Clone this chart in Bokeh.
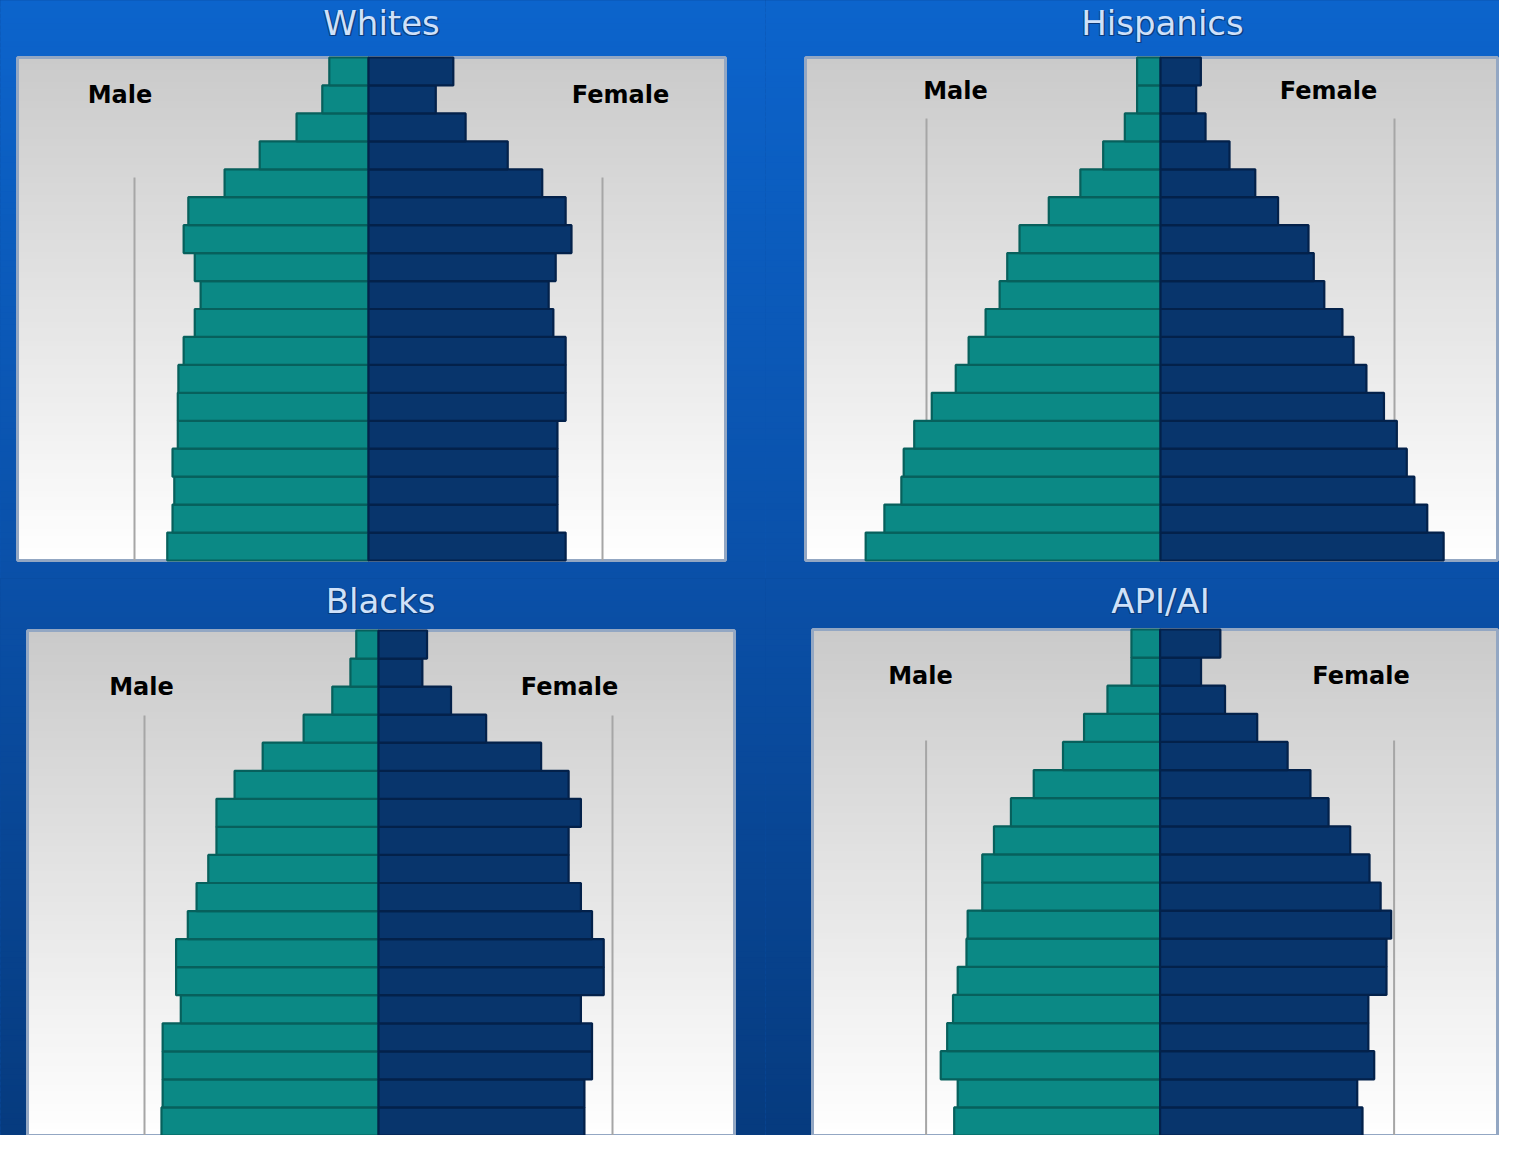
import numpy as np
from bokeh.plotting import figure
from bokeh.layouts import row, column
from bokeh.core.properties import value
from bokeh.embed import file_html
from bokeh.resources import INLINE

# ---------------- data (bottom row = youngest age group) ----------------
age_groups = ["0-4", "5-9", "10-14", "15-19", "20-24", "25-29", "30-34", "35-39",
              "40-44", "45-49", "50-54", "55-59", "60-64", "65-69", "70-74",
              "75-79", "80-84", "85+"]

whites_male = [3.44, 3.35, 3.32, 3.35, 3.26, 3.26, 3.25, 3.16, 2.97, 2.87, 2.97,
               3.16, 3.08, 2.46, 1.86, 1.23, 0.79, 0.67]
whites_female = [3.37, 3.23, 3.23, 3.23, 3.23, 3.37, 3.37, 3.37, 3.16, 3.08, 3.20,
                 3.47, 3.37, 2.97, 2.38, 1.66, 1.15, 1.45]

hispanics_male = [5.04, 4.72, 4.43, 4.39, 4.21, 3.91, 3.50, 3.28, 2.99, 2.75, 2.62,
                  2.41, 1.91, 1.37, 0.98, 0.61, 0.40, 0.40]
hispanics_female = [4.84, 4.56, 4.34, 4.21, 4.04, 3.82, 3.52, 3.30, 3.11, 2.80, 2.62,
                    2.53, 2.01, 1.62, 1.18, 0.77, 0.61, 0.69]

blacks_male = [3.71, 3.69, 3.69, 3.69, 3.38, 3.46, 3.46, 3.26, 3.11, 2.91, 2.77,
               2.77, 2.46, 1.98, 1.28, 0.79, 0.48, 0.38]
blacks_female = [3.52, 3.52, 3.65, 3.65, 3.46, 3.85, 3.85, 3.65, 3.46, 3.25, 3.25,
                 3.46, 3.25, 2.78, 1.84, 1.24, 0.75, 0.83]

api_male = [3.52, 3.46, 3.75, 3.64, 3.54, 3.46, 3.31, 3.29, 3.04, 3.04, 2.84,
            2.55, 2.16, 1.66, 1.30, 0.90, 0.49, 0.49]
api_female = [3.46, 3.37, 3.66, 3.56, 3.56, 3.87, 3.87, 3.95, 3.77, 3.58, 3.25,
              2.88, 2.57, 2.18, 1.66, 1.11, 0.70, 1.03]

panel_titles = ["Whites", "Hispanics", "Blacks", "API/AI"]
side_labels = ["Male", "Female"]
grid_values = [-4.0, 4.0]

# ---------------- styling / layout ----------------
PX = 58.5              # pixels per unit on the value axis
MALE_FILL, MALE_LINE = "#0b8985", "#07605c"
FEMALE_FILL, FEMALE_LINE = "#08356c", "#03214a"
TITLE_COLOR, TITLE_SHADOW = "#cfe1f9", "#0a3672"
BLUE_STOPS = [(0, (12, 100, 204)), (578, (10, 80, 168)), (1151, (6, 58, 125))]

# pixel geometry per panel (canvas-local px from top-left); text positions = visual centres
layout_cfg = [
    dict(W=765, H=578, gy0=0, frame=(17, 725, 57, 560), cx=368, title=(381, 22),
         male_lbl=(119.5, 94.5), female_lbl=(620, 94.5), grid_top=177),
    dict(W=734, H=578, gy0=0, frame=(40, 732, 57, 560), cx=395, title=(397, 22),
         male_lbl=(190, 90.5), female_lbl=(563, 90.5), grid_top=118),
    dict(W=765, H=557, gy0=578, frame=(27, 734, 52, 557), cx=378, title=(380, 22),
         male_lbl=(141, 108.5), female_lbl=(569, 108.5), grid_top=137),
    dict(W=734, H=557, gy0=578, frame=(47, 732, 51, 557), cx=394.6, title=(395, 22),
         male_lbl=(155, 97), female_lbl=(595.5, 97), grid_top=162),
]
series = [(whites_male, whites_female), (hispanics_male, hispanics_female),
          (blacks_male, blacks_female), (api_male, api_female)]


def blue_at(gy):
    for (y_a, c_a), (y_b, c_b) in zip(BLUE_STOPS[:-1], BLUE_STOPS[1:]):
        if gy <= y_b:
            t = (gy - y_a) / (y_b - y_a)
            return "#%02x%02x%02x" % tuple(int(round(a + (b - a) * t)) for a, b in zip(c_a, c_b))
    return "#%02x%02x%02x" % BLUE_STOPS[-1][1]


def make_panel(title, male, female, cfg):
    W, H = cfg["W"], cfg["H"]
    fl, fr, ft, fb = cfg["frame"]
    cx = cfg["cx"]
    n = len(age_groups)
    rowh = (fb - ft) / n
    x0, x1 = -cx / PX, (W - cx) / PX
    y1 = n + ft / rowh
    y0 = -(H - fb) / rowh

    def dx(px):
        return (px - cx) / PX

    def dy(py):
        return y1 - py / rowh

    mid = blue_at(cfg["gy0"] + H / 2)
    p = figure(width=W, height=H, x_range=(x0, x1), y_range=(y0, y1),
               output_backend="svg", toolbar_location=None,
               x_axis_type=None, y_axis_type=None, min_border=0,
               border_fill_color=mid, background_fill_color=mid)
    p.grid.visible = False
    p.outline_line_color = None

    # blue background gradient (bands overlap, and run past the canvas edges)
    nb = 100
    tops = [dy(k * H / nb - (6 if k == 0 else 0)) for k in range(nb)]
    bots = [dy((k + 1) * H / nb + (6 if k == nb - 1 else 2)) for k in range(nb)]
    cols = [blue_at(cfg["gy0"] + (k + 0.5) * H / nb) for k in range(nb)]
    p.quad(left=dx(-6), right=dx(W + 6), top=tops, bottom=bots, fill_color=cols,
           line_color=None)

    # grey panel gradient
    ng = 80
    gtops = [dy(ft + k * (fb - ft) / ng) for k in range(ng)]
    gbots = [dy(min(ft + (k + 1) * (fb - ft) / ng + 2, fb)) for k in range(ng)]
    gcols = []
    for k in range(ng):
        v = int(round(202 + 53 * (k + 0.5) / ng))
        gcols.append("#%02x%02x%02x" % (v, v, v))
    p.quad(left=dx(fl), right=dx(fr), top=gtops, bottom=gbots, fill_color=gcols,
           line_color=None)
    p.quad(left=dx(fl), right=dx(fr), top=n, bottom=0, fill_color=None,
           line_color="#93a7c3", line_width=3)

    # grid lines
    gtop = dy(cfg["grid_top"])
    p.segment(x0=grid_values, x1=grid_values, y0=[gtop] * len(grid_values),
              y1=[0] * len(grid_values), line_color="#a6a6a6", line_width=2)

    # bars
    ys = np.arange(n) + 0.5
    p.hbar(y=ys, height=1, left=[-v for v in male], right=0,
           fill_color=MALE_FILL, line_color=MALE_LINE, line_width=2.2)
    p.hbar(y=ys, height=1, left=0, right=female,
           fill_color=FEMALE_FILL, line_color=FEMALE_LINE, line_width=2.2)

    # title (with a dark halo) and side labels
    tx, ty = cfg["title"]
    offs = [(1.5, 1.5), (-1, 1)]
    p.text(x=[dx(tx + o[0]) for o in offs], y=[dy(ty + o[1]) for o in offs],
           text=[title] * len(offs), text_align="center", text_baseline="middle",
           text_font=value("DejaVu Sans"), text_font_size="34px",
           text_color=TITLE_SHADOW, text_alpha=0.8)
    p.text(x=[dx(tx)], y=[dy(ty)], text=[title], text_align="center",
           text_baseline="middle", text_font=value("DejaVu Sans"),
           text_font_size="34px", text_color=TITLE_COLOR)
    pos = [cfg["male_lbl"], cfg["female_lbl"]]
    p.text(x=[dx(q[0]) for q in pos], y=[dy(q[1]) for q in pos], text=side_labels,
           text_align="center", text_baseline="middle",
           text_font=value("DejaVu Sans"), text_font_style="bold",
           text_font_size="24px", text_color="#000000")
    return p


figs = [make_panel(t, m, f, c) for t, (m, f), c in zip(panel_titles, series, layout_cfg)]
bg = {"background-color": blue_at(578)}
layout = column(row(figs[0], figs[1], styles=bg), row(figs[2], figs[3], styles=bg),
                styles=bg)

open("out.html", "w").write(file_html(layout, INLINE))
